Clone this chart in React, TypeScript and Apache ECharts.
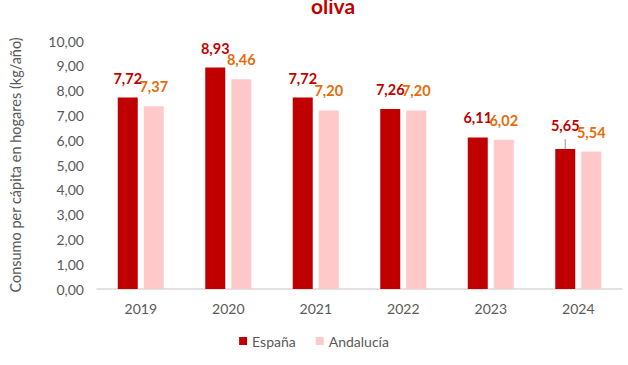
import React, { useEffect, useRef } from "react";
import * as echarts from "echarts";

const years = ["2019", "2020", "2021", "2022", "2023", "2024"];
const espana = [7.72, 8.93, 7.72, 7.26, 6.11, 5.65];
const andalucia = [7.37, 8.46, 7.2, 7.2, 6.02, 5.54];
const titleText = "oliva";
const yAxisName = "Consumo per cápita en hogares (kg/año)";
const leaderIndex = 5;

const fmt = (v: number) => v.toFixed(2).replace(".", ",");
const FONT = "Lato, 'Open Sans', sans-serif";
const BAR_W = 20;
const BAR_GAP = 6;

export default function App() {
  const ref = useRef<HTMLDivElement>(null);
  useEffect(() => {
    if (!ref.current) return;
    const chart = echarts.init(ref.current, undefined, { renderer: "svg" });
    chart.setOption({
      animation: false,
      textStyle: { fontFamily: FONT },
      graphic: [
        {
          type: "text",
          x: 333,
          y: 5,
          style: {
            text: titleText,
            fill: "#C00000",
            font: `bold 21px ${FONT}`,
            textAlign: "center",
            textVerticalAlign: "middle",
          },
        },
      ],
      legend: {
        bottom: 12,
        left: "center",
        itemWidth: 8,
        itemHeight: 8,
        itemGap: 20,
        icon: "rect",
        textStyle: { color: "#595959", fontSize: 14, fontFamily: FONT },
        data: ["España", "Andalucía"],
      },
      grid: { left: 93, right: 6, top: 41, bottom: 76 },
      xAxis: {
        type: "category",
        data: years,
        axisTick: { show: false },
        axisLine: { lineStyle: { color: "#D9D9D9", width: 1.5 } },
        axisLabel: { color: "#595959", fontSize: 14, margin: 12, fontFamily: FONT },
      },
      yAxis: {
        type: "value",
        min: 0,
        max: 10,
        interval: 1,
        name: yAxisName,
        nameLocation: "middle",
        nameGap: 74,
        nameTextStyle: { color: "#595959", fontSize: 14.5, fontFamily: FONT },
        axisLine: { show: false },
        axisTick: { show: false },
        splitLine: { show: false },
        axisLabel: {
          color: "#595959",
          fontSize: 14,
          margin: 13,
          fontFamily: FONT,
          formatter: (v: number) => fmt(v),
        },
      },
      series: [
        {
          name: "España",
          type: "bar",
          barWidth: BAR_W,
          barGap: `${(BAR_GAP / BAR_W) * 100}%`,
          itemStyle: { color: "#C00000" },
          data: espana,
          label: {
            show: true,
            position: "top",
            distance: 12,
            color: "#C00000",
            fontWeight: "bold",
            fontSize: 14.5,
            fontFamily: FONT,
            formatter: (p: any) => fmt(p.value),
          },
          labelLayout: (p: any) => (p.dataIndex === leaderIndex ? { dy: -4 } : {}),
        },
        {
          name: "Andalucía",
          type: "bar",
          barWidth: BAR_W,
          itemStyle: { color: "#FFC9C9" },
          data: andalucia,
          label: {
            show: true,
            position: "top",
            distance: 12,
            color: "#E46C0A",
            fontWeight: "bold",
            fontSize: 14.5,
            fontFamily: FONT,
            formatter: (p: any) => fmt(p.value),
          },
        },
        {
          type: "custom",
          silent: true,
          data: [[leaderIndex, espana[leaderIndex]]],
          renderItem: (params: any, api: any) => {
            const pt = api.coord([api.value(0), api.value(1)]);
            const x = pt[0] - (BAR_W + BAR_GAP) / 2;
            return {
              type: "line",
              shape: { x1: x, y1: pt[1], x2: x, y2: pt[1] - 10 },
              style: { stroke: "#A6A6A6", lineWidth: 1.2 },
            };
          },
        },
      ],
    });
    return () => chart.dispose();
  }, []);
  return (
    <div
      ref={ref}
      style={{ position: "fixed", left: 0, top: 0, width: 628, height: 365, background: "#fff" }}
    />
  );
}
